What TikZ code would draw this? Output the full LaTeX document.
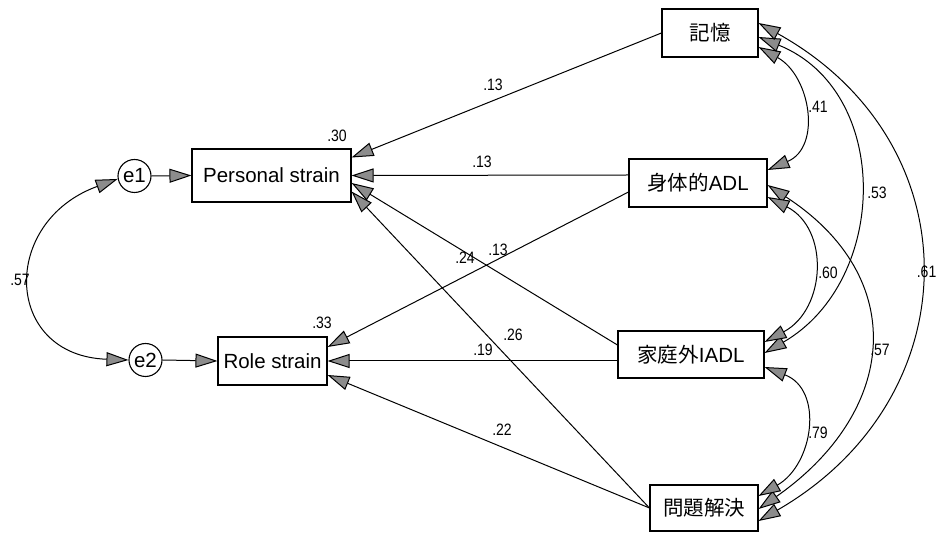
\documentclass[tikz,border=0pt]{standalone}
\usepackage{fontspec}
\setmainfont{Liberation Sans}
\newfontfamily\cjk{Noto Sans CJK JP}
\newfontfamily\numfont[FakeStretch=0.85]{Liberation Sans}
\usetikzlibrary{arrows.meta}
\tikzset{
  gtri/.tip={Triangle[length=22pt,width=14pt,fill=gray!90]},
  box/.style={draw, line width=1.1pt, inner sep=0pt, font=\fontsize{20.5}{24}\selectfont},
  err/.style={draw, circle, line width=1.1pt, minimum size=33pt, inner sep=0pt, font=\fontsize{20.5}{24}\selectfont},
  pathline/.style={line width=1pt, -gtri},
  cov/.style={line width=1pt, gtri-gtri},
  lab/.style={font=\numfont\fontsize{16.5}{19}\selectfont, inner sep=0pt}
}
\begin{document}
\begin{tikzpicture}[x=1pt,y=1pt]
\fill[white] (0,0) rectangle (938,533);
\useasboundingbox (0,0) rectangle (938,533);

% nodes
\node[box, minimum width=159pt, minimum height=53pt] (ps) at (271.5,357.5) {Personal strain};
\node[box, minimum width=109pt, minimum height=48pt] (rs) at (272.5,172) {Role strain};
\node[box, minimum width=96pt, minimum height=48pt] (mem) at (710,500) {\cjk 記憶};
\node[box, minimum width=138pt, minimum height=48pt] (phys) at (698,350) {{\cjk 身体的}ADL};
\node[box, minimum width=146pt, minimum height=47pt] (iadl) at (691,178.5) {{\cjk 家庭外}IADL};
\node[box, minimum width=108pt, minimum height=46pt] (prob) at (704,25) {\cjk 問題解決};
\node[err] (e1) at (134.5,357) {e1};
\node[err] (e2) at (145.5,173) {e2};

% paths
\draw[pathline] (e1.east) -- (ps.west);
\draw[pathline] (e2.east) -- (rs.west);
\draw[pathline] (mem.west) -- ([yshift=18]ps.east);
\draw[pathline] ([yshift=8]phys.west) -- (ps.east);
\draw[pathline] ([yshift=9.5]iadl.west) -- ([yshift=-7.5]ps.east);
\draw[pathline] (prob.west) -- ([yshift=-16]ps.east);
\draw[pathline] ([yshift=-9]phys.west) -- ([yshift=14]rs.east);
\draw[pathline] ([yshift=-6.5]iadl.west) -- (rs.east);
\draw[pathline] (prob.west) -- ([yshift=-14]rs.east);

% covariances
\draw[cov] (e1.190) to[out=200,in=178,looseness=1.77] (e2.west);
\draw[cov] ([yshift=-14]mem.east) to[out=-29,in=23,looseness=1.23] ([yshift=13]phys.east);
\draw[cov] ([yshift=-4]mem.east) to[out=-22,in=30,looseness=1.165] ([yshift=1.5]iadl.east);
\draw[cov] ([yshift=10]mem.east) to[out=-29,in=30,looseness=1.27] ([yshift=-13]prob.east);
\draw[cov] ([yshift=-2]phys.east) to[out=-33,in=35,looseness=1.34] ([yshift=-1]prob.east);
\draw[cov] ([yshift=-14]phys.east) to[out=-27,in=28,looseness=1.23] ([yshift=12.5]iadl.east);
\draw[cov] ([yshift=-12.5]iadl.east) to[out=-21,in=30,looseness=1.26] ([yshift=12]prob.east);

% labels
\node[lab] (l30) at (337,397) {.30};
\node[lab] (l13a) at (493,448) {.13};
\node[lab] (l13b) at (482,371) {.13};
\node[lab] (l24) at (465,275) {.24};
\node[lab] (l13c) at (498,283) {.13};
\node[lab] (l33) at (322,210) {.33};
\node[lab] (l19) at (483,183) {.19};
\node[lab] (l26) at (513,198) {.26};
\node[lab] (l22) at (502,103) {.22};
\node[lab] (l41) at (818,426) {.41};
\node[lab] (l53) at (877,340) {.53};
\node[lab] (l60) at (828,260) {.60};
\node[lab, anchor=east] (l61) at (936.5,261) {.61};
\node[lab] (l57r) at (880,183) {.57};
\node[lab] (l79) at (818,100) {.79};
\node[lab] (l57l) at (20,253) {.57};
\end{tikzpicture}
\end{document}
